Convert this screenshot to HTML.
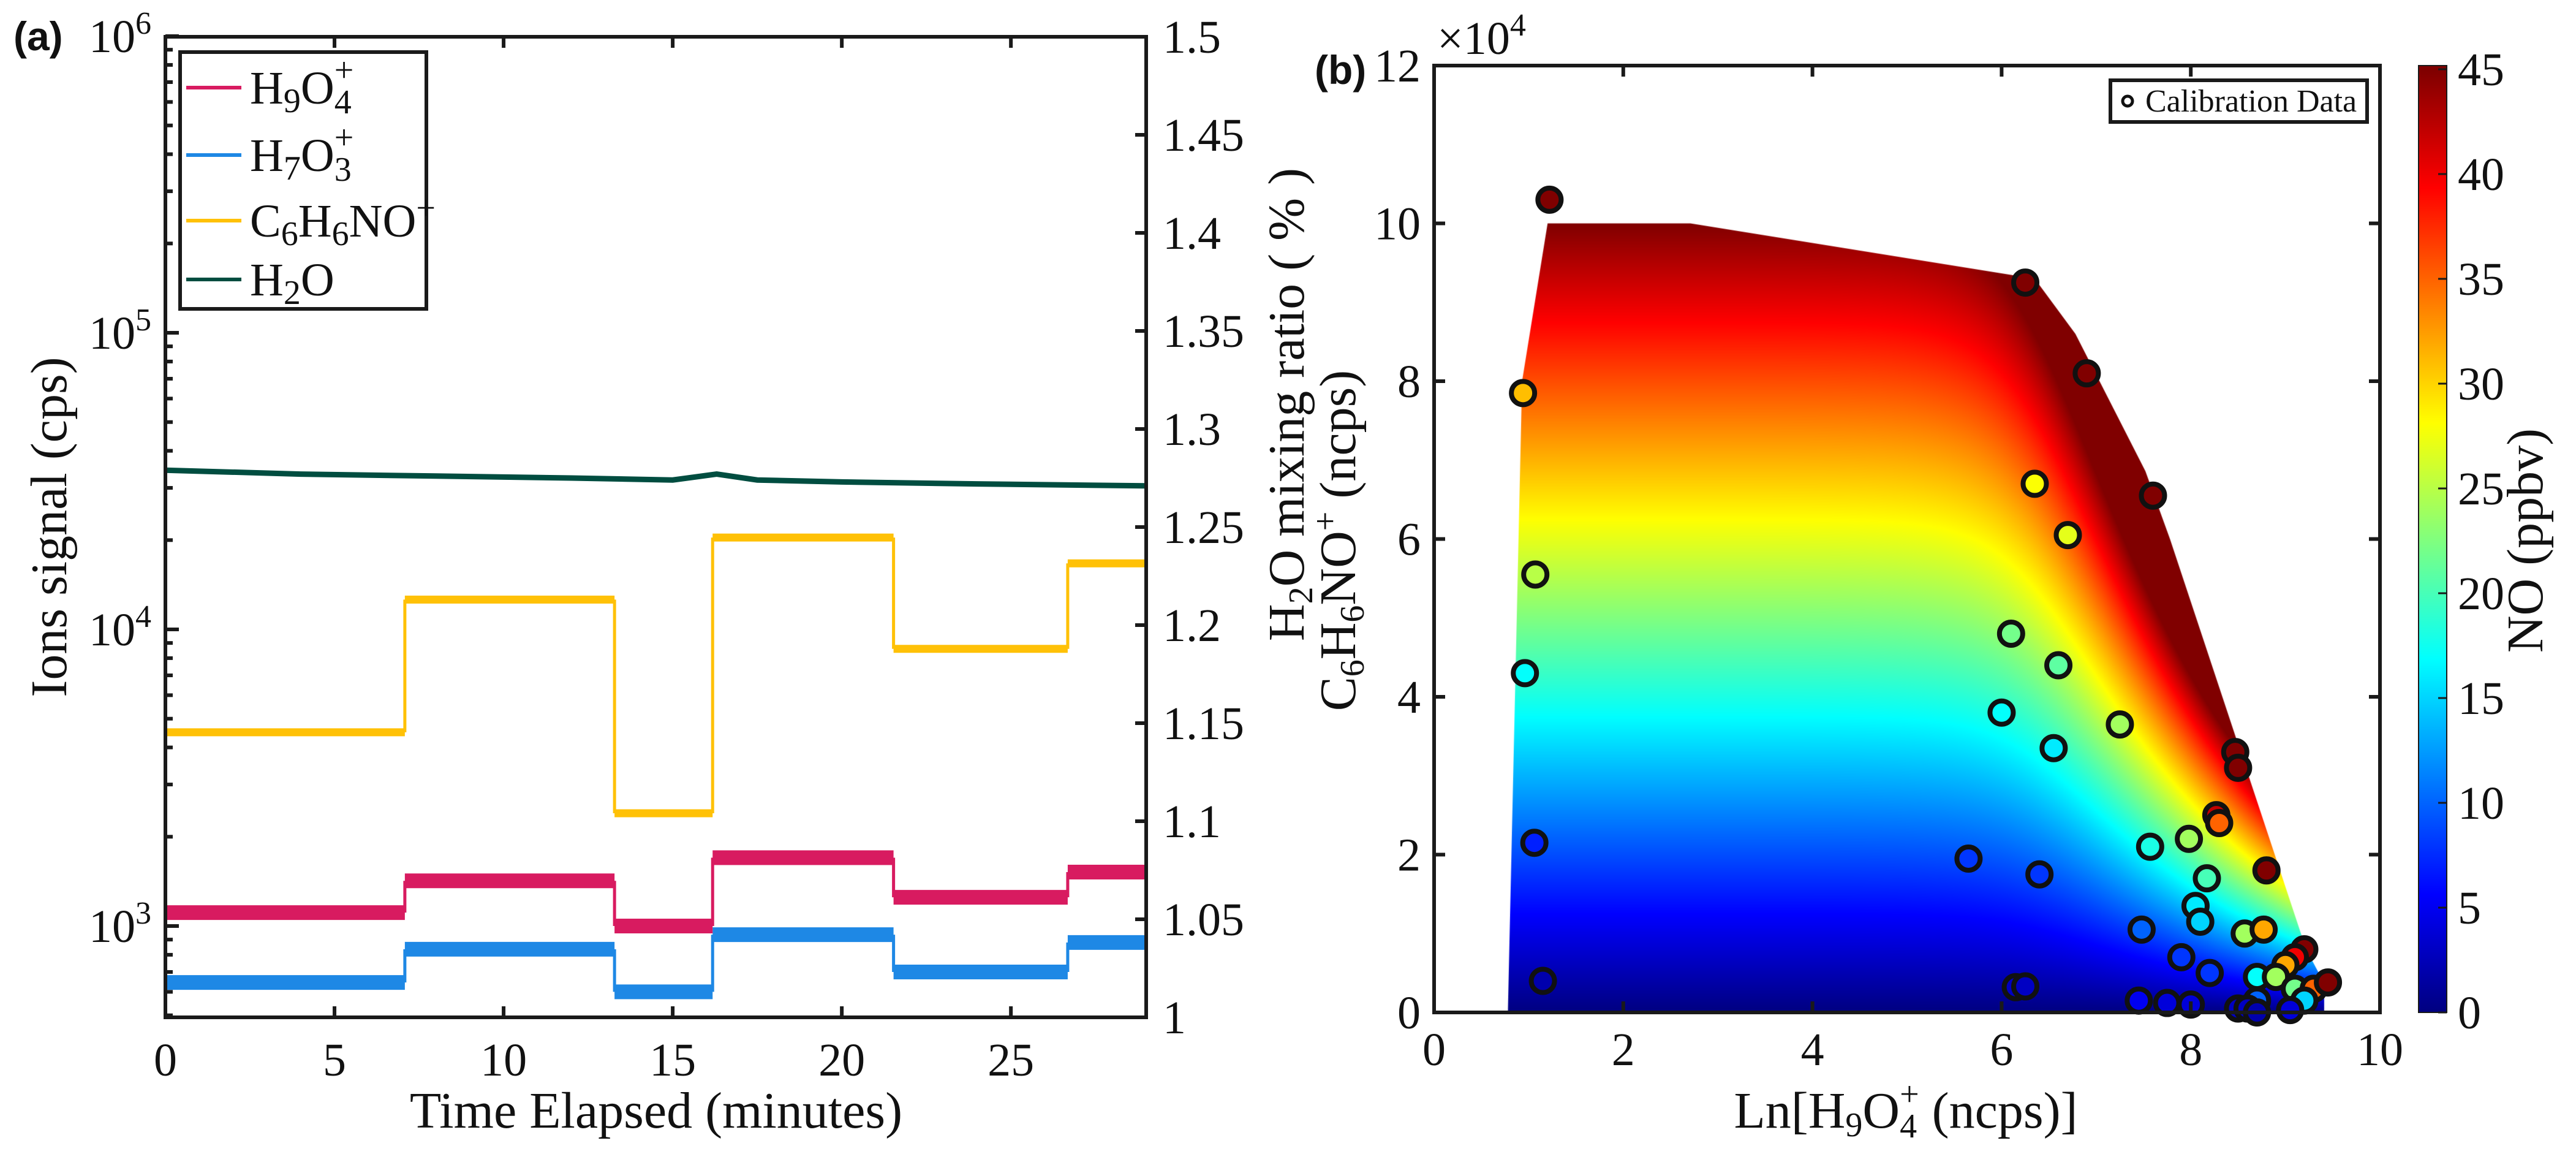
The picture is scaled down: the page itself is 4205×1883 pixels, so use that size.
<!DOCTYPE html>
<html><head><meta charset="utf-8">
<style>
html,body{margin:0;padding:0;background:#fff;}
#wrap{position:relative;width:4205px;height:1883px;overflow:hidden;font-family:"Liberation Serif",serif;}
#heat{position:absolute;left:0;top:0;}
svg{position:absolute;left:0;top:0;}
text{font-family:"Liberation Serif",serif;fill:#111;}
</style></head>
<body>
<div id="wrap">
<canvas id="heat" width="4205" height="1883"></canvas>
<svg id="svg" width="4205" height="1883" xmlns="http://www.w3.org/2000/svg"></svg>
</div>
<script>
// ---------- Panel (a) data ----------
const stepTimes = [0, 7.08, 13.28, 16.18, 21.53, 26.68, 29];
const h9o4Levels = [1110, 1420, 1000, 1700, 1250, 1520];
const h7o3Levels = [645, 835, 600, 935, 700, 880];
const c6h6noLevels = [4500, 12600, 2400, 20400, 8600, 16700];
const h2oTimes = [0, 4, 8, 12, 15, 16.3, 17.5, 20, 24, 29];
const h2oValues = [1.279, 1.277, 1.276, 1.275, 1.274, 1.277, 1.274, 1.273, 1.272, 1.271];
const xTicksA = [0, 5, 10, 15, 20, 25];
const yTicksRight = [1, 1.05, 1.1, 1.15, 1.2, 1.25, 1.3, 1.35, 1.4, 1.45, 1.5];
const yDecades = [3, 4, 5, 6];
// ---------- Panel (b) data ----------
const xTicksB = [0, 2, 4, 6, 8, 10];
const yTicksB = [0, 2, 4, 6, 8, 10, 12];
const cbTicks = [0, 5, 10, 15, 20, 25, 30, 35, 40, 45];
const hullX = [0.78, 0.93, 1.2, 2.71, 6.35, 6.78, 7.52, 7.78, 9.22, 9.41, 9.41];
const hullY = [0, 8.0, 10, 10, 9.3, 8.6, 6.86, 6.0, 0.8, 0.37, 0];
const calX = [1.22,0.94,1.07,0.96,1.06,1.15,6.25,6.9,7.6,6.35,6.7,6.1,6.6,6.0,6.55,7.25,5.65,6.4,8.47,8.5,8.27,8.3,7.57,7.98,8.17,8.05,8.1,8.8,7.48,8.57,8.77,7.9,8.2,9.2,9.1,9.0,8.7,8.9,9.1,9.3,9.45,9.2,8.7,7.45,7.75,8.0,8.5,8.6,8.7,9.05,6.15,6.25];
const calY = [10.3,7.85,5.55,4.3,2.15,0.4,9.25,8.1,6.55,6.7,6.05,4.8,4.4,3.8,3.35,3.65,1.95,1.75,3.3,3.1,2.5,2.4,2.1,2.2,1.7,1.35,1.15,1.8,1.05,1.0,1.05,0.7,0.5,0.8,0.7,0.6,0.45,0.45,0.3,0.3,0.38,0.15,0.15,0.15,0.12,0.1,0.05,0.05,0.0,0.03,0.32,0.33];
const calNO = [45,31,25,17,7,2,45,45,45,28,27,22,21,17,16,24,8,8,45,45,42,35,18,24,20,16,15,45,10,24,32,8,8,45,40,32,17,24,22,35,45,15,10,5,4,4,3,3,2,4,3,3];

const NS = "http://www.w3.org/2000/svg";
const svg = document.getElementById('svg');
function el(tag, attrs, parent){ const e=document.createElementNS(NS,tag); for(const k in attrs) e.setAttribute(k,attrs[k]); (parent||svg).appendChild(e); return e; }
function txt(s, attrs, parent){ const e=el('text',attrs,parent); e.innerHTML=s; return e; }

const AL=270, AR=1871, AT=60, AB=1660;
const xa = t => AL + t/29*(AR-AL);
const ya = v => 1511 - (Math.log10(v)-3)*484;
const yr = v => AB - (v-1)/0.5*(AB-AT);

function jet(t){ t=Math.max(0,Math.min(1,t)); const c=x=>Math.round(255*Math.max(0,Math.min(1,x)));
  return [c(1.5-Math.abs(4*t-3)), c(1.5-Math.abs(4*t-2)), c(1.5-Math.abs(4*t-1))]; }

const gA = el('g',{});


function drawSteps(levels, color, w, name){
  const g=el('g',{},gA);
  
  
  for(let i=0;i<levels.length;i++){ const y=ya(levels[i]);
    el('line',{x1:xa(stepTimes[i]),x2:xa(stepTimes[i+1]),y1:y,y2:y,stroke:color,'stroke-width':w},g);
    if(i>0){ const y0=ya(levels[i-1]); el('line',{x1:xa(stepTimes[i]),x2:xa(stepTimes[i]),y1:y0,y2:y,stroke:color,'stroke-width':5},g); }
  }
}
drawSteps(h7o3Levels,'#1e88e5',24,'series-h7o3');
drawSteps(h9o4Levels,'#d81b60',24,'series-h9o4');
drawSteps(c6h6noLevels,'#ffc107',13,'series-c6h6no');
let dh=''; h2oTimes.forEach((t,i)=>{dh+=(i?'L':'M')+xa(t)+','+yr(h2oValues[i])+' ';});
const s4=el('path',{d:dh,stroke:'#004d40',fill:'none','stroke-width':9},gA);



const boxA=el('rect',{x:AL,y:AT,width:AR-AL,height:AB-AT,fill:'none',stroke:'#1a1a1a','stroke-width':6},gA);


xTicksA.forEach(t=>{ const x=xa(t);
  el('line',{x1:x,x2:x,y1:AB,y2:AB-18,stroke:'#1a1a1a','stroke-width':6},gA);
  el('line',{x1:x,x2:x,y1:AT,y2:AT+18,stroke:'#1a1a1a','stroke-width':6},gA);
  const l=txt(String(t),{x:x,y:1755,'font-size':76,'text-anchor':'middle'},gA);
  
  
});
yDecades.forEach(d=>{ const y=ya(Math.pow(10,d));
  el('line',{x1:AL,x2:AL+22,y1:y,y2:y,stroke:'#1a1a1a','stroke-width':6},gA);
  const l=txt('10<tspan dy="-30" font-size="52">'+d+'</tspan>',{x:AL-125,y:y+26,'font-size':76},gA);
  
  
  if(d<6){ for(let m=2;m<=9;m++){ const yy=ya(m*Math.pow(10,d)); if(yy>=AT) el('line',{x1:AL,x2:AL+12,y1:yy,y2:yy,stroke:'#1a1a1a','stroke-width':6},gA);} }
});
for(let m=5;m<=9;m++){ const yy=ya(m*100); if(yy<=AB) el('line',{x1:AL,x2:AL+12,y1:yy,y2:yy,stroke:'#1a1a1a','stroke-width':6},gA);}
yTicksRight.forEach(v=>{ const y=yr(v);
  el('line',{x1:AR,x2:AR-18,y1:y,y2:y,stroke:'#1a1a1a','stroke-width':6},gA);
  const l=txt(String(v),{x:1898,y:y+26,'font-size':76},gA);
  
  
});
const xla=txt('Time Elapsed (minutes)',{x:1071,y:1840,'font-size':84,'text-anchor':'middle'},gA);


const yla=txt('Ions signal (cps)',{x:0,y:0,'font-size':84,'text-anchor':'middle',transform:'translate(108,860) rotate(-90)'},gA);


const yra=txt('H<tspan dy="14" font-size="56">2</tspan><tspan dy="-14">O mixing ratio ( % )</tspan>',{x:0,y:0,'font-size':84,'text-anchor':'middle',transform:'translate(2128,660) rotate(-90)'},gA);


const pa=txt('(a)',{x:22,y:82,'font-size':66,'font-weight':'bold',style:'font-family:"Liberation Sans",sans-serif'},gA);


const lg=el('g',{},gA);


el('rect',{x:294,y:85,width:402,height:419,fill:'#fff',stroke:'#1a1a1a','stroke-width':6},lg);
const legItems=[['#d81b60','H<tspan dy="14" font-size="56">9</tspan><tspan dy="-14">O</tspan><tspan dy="16" font-size="56">4</tspan><tspan dx="-28" dy="-52" font-size="56">+</tspan>',143],
['#1e88e5','H<tspan dy="14" font-size="56">7</tspan><tspan dy="-14">O</tspan><tspan dy="16" font-size="56">3</tspan><tspan dx="-28" dy="-52" font-size="56">+</tspan>',253],
['#ffc107','C<tspan dy="14" font-size="56">6</tspan><tspan dy="-14">H</tspan><tspan dy="14" font-size="56">6</tspan><tspan dy="-14">NO</tspan><tspan dy="-28" font-size="56">+</tspan>',360],
['#004d40','H<tspan dy="14" font-size="56">2</tspan><tspan dy="-14">O</tspan>',456]];
legItems.forEach(it=>{ const g=el('g',{},lg);
  
  
  el('line',{x1:304,x2:394,y1:it[2],y2:it[2],stroke:it[0],'stroke-width':6},g);
  txt(it[1],{x:408,y:it[2]+26,'font-size':76},g);
});

const BL=2341, BR=3885, BT=107, BB=1652;
const xb = v => BL + v/10*(BR-BL);
const yb = v => BB - v/12*(BB-BT);
const CBL=3948, CBR=3994, CBT=107, CBB=1652;
const ycb = v => 1652 - v/45*(1652-113);
function softplus(z){ return Math.log(1+Math.exp(2.5*z))/2.5; }
function noAt(x,y){ const k=4.5*Math.exp(0.5*softplus(x-6.3)); return Math.min(45,y*k); }

(function(){
  const c=document.getElementById('heat'); const ctx=c.getContext('2d');
  const w=BR-BL, h=BB-BT; const off=document.createElement('canvas'); off.width=w; off.height=h;
  const octx=off.getContext('2d'); const img=octx.createImageData(w,h);
  for(let j=0;j<h;j++){ const yv=(BB-(BT+j))/(BB-BT)*12;
    for(let i=0;i<w;i++){ const xv=i/w*10; const col=jet(noAt(xv,yv)/45); const p=(j*w+i)*4;
      img.data[p]=col[0]; img.data[p+1]=col[1]; img.data[p+2]=col[2]; img.data[p+3]=255; } }
  octx.putImageData(img,0,0);
  ctx.save(); ctx.beginPath();
  hullX.forEach((x,i)=>{ const px=xb(x), py=yb(hullY[i]); if(i) ctx.lineTo(px,py); else ctx.moveTo(px,py); });
  ctx.closePath(); ctx.clip(); ctx.drawImage(off,BL,BT); ctx.restore();
  for(let y=CBT;y<CBB;y++){ const v=(1652-y)/(1652-113)*45; const col=jet(v/45); ctx.fillStyle='rgb('+col.join(',')+')'; ctx.fillRect(CBL,y,CBR-CBL,1); }
})();

const gB=el('g',{});


calX.forEach((x,i)=>{ const col=jet(calNO[i]/45);
  const c=el('circle',{cx:xb(x),cy:yb(calY[i]),r:19,fill:'rgb('+col.join(',')+')',stroke:'#111','stroke-width':8},gB);
  
  
});
const boxB=el('rect',{x:BL,y:BT,width:BR-BL,height:BB-BT,fill:'none',stroke:'#1a1a1a','stroke-width':6},gB);


xTicksB.forEach(t=>{ const x=xb(t);
  el('line',{x1:x,x2:x,y1:BB,y2:BB-18,stroke:'#1a1a1a','stroke-width':6},gB);
  el('line',{x1:x,x2:x,y1:BT,y2:BT+18,stroke:'#1a1a1a','stroke-width':6},gB);
  const l=txt(String(t),{x:x,y:1738,'font-size':76,'text-anchor':'middle'},gB);
  
  
});
yTicksB.forEach(t=>{ const y=yb(t);
  el('line',{x1:BL,x2:BL+18,y1:y,y2:y,stroke:'#1a1a1a','stroke-width':6},gB);
  el('line',{x1:BR,x2:BR-18,y1:y,y2:y,stroke:'#1a1a1a','stroke-width':6},gB);
  const l=txt(String(t),{x:BL-22,y:y+26,'font-size':76,'text-anchor':'end'},gB);
  
  
});
const mult=txt('×10<tspan dy="-30" font-size="52">4</tspan>',{x:2346,y:88,'font-size':76},gB);


const pb=txt('(b)',{x:2146,y:137,'font-size':66,'font-weight':'bold',style:'font-family:"Liberation Sans",sans-serif'},gB);


const xlb=txt('Ln[H<tspan dy="14" font-size="56">9</tspan><tspan dy="-14">O</tspan><tspan dy="16" font-size="56">4</tspan><tspan dx="-28" dy="-52" font-size="56">+</tspan><tspan dy="36"> (ncps)]</tspan>',{x:3111,y:1840,'font-size':84,'text-anchor':'middle'},gB);


const ylb=txt('C<tspan dy="14" font-size="56">6</tspan><tspan dy="-14">H</tspan><tspan dy="14" font-size="56">6</tspan><tspan dy="-14">NO</tspan><tspan dy="-30" font-size="56">+</tspan><tspan dy="30"> (ncps)</tspan>',{x:0,y:0,'font-size':84,'text-anchor':'middle',transform:'translate(2212,882) rotate(-90)'},gB);


const lgb=el('g',{},gB);


el('rect',{x:3445,y:131,width:419,height:68,fill:'#fff',stroke:'#1a1a1a','stroke-width':6},lgb);
el('circle',{cx:3473,cy:165,r:8,fill:'none',stroke:'#111','stroke-width':5},lgb);
txt('Calibration Data',{x:3502,y:182,'font-size':52},lgb);
const cb=el('g',{},gB);


el('rect',{x:CBL,y:CBT,width:CBR-CBL,height:CBB-CBT,fill:'none',stroke:'#1a1a1a','stroke-width':2},cb);
cbTicks.forEach(v=>{ const y=ycb(v);
  el('line',{x1:CBR-14,x2:CBR,y1:y,y2:y,stroke:'#1a1a1a','stroke-width':3},cb);
  const l=txt(String(v),{x:4012,y:y+26,'font-size':76},cb);
  
  
});
const cbl=txt('NO (ppbv)',{x:0,y:0,'font-size':84,'text-anchor':'middle',transform:'translate(4150,882) rotate(-90)'},cb);


</script>
</body></html>
